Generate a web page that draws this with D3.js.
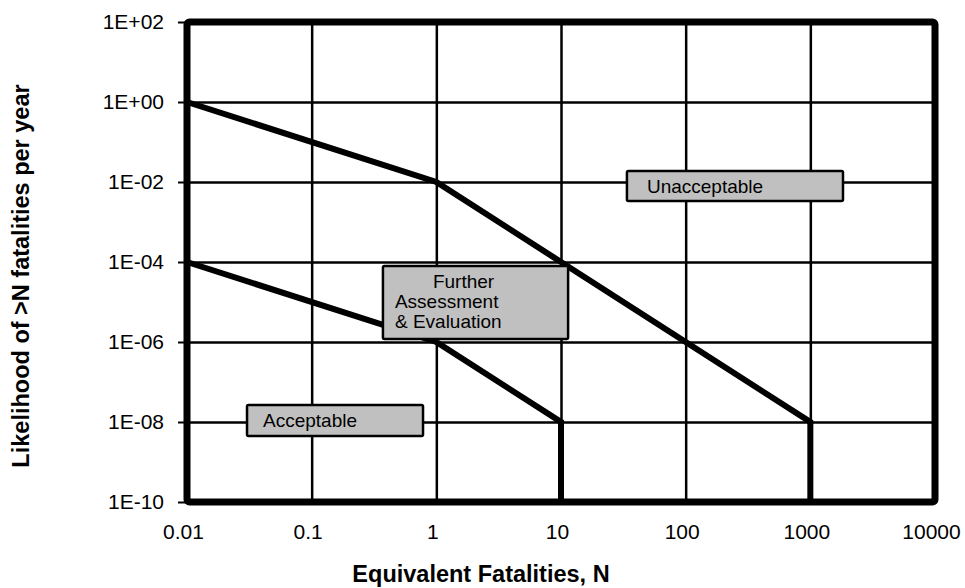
<!DOCTYPE html>
<html>
<head>
<meta charset="utf-8">
<script src="https://cdn.jsdelivr.net/npm/d3@7"></script>
<style>
  html, body { margin: 0; padding: 0; background: #fff; }
  svg { display: block; }
  text { font-family: "Liberation Sans", Arial, sans-serif; fill: #000; }
</style>
</head>
<body>
<svg id="chart" width="965" height="588"></svg>
<script>
// ---- Data ----
const xTicks = [0.01, 0.1, 1, 10, 100, 1000, 10000];
const xTickLabels = ["0.01", "0.1", "1", "10", "100", "1000", "10000"];
const yTicks = [1e2, 1e0, 1e-2, 1e-4, 1e-6, 1e-8, 1e-10];
const yTickLabels = ["1E+02", "1E+00", "1E-02", "1E-04", "1E-06", "1E-08", "1E-10"];

// Upper criterion line (unacceptable boundary)
const upperN = [0.01, 1, 10, 100, 1000, 1000];
const upperF = [1e0, 1e-2, 1e-4, 1e-6, 1e-8, 1e-10];
// Lower criterion line (acceptable boundary)
const lowerN = [0.01, 1, 10, 10];
const lowerF = [1e-4, 1e-6, 1e-8, 1e-10];

const regionLabels = [
  { lines: ["Unacceptable"], x0: 33.8, x1: 1828, y0: Math.pow(10, -1.725), y1: Math.pow(10, -2.475) },
  { lines: ["Further", "Assessment", "& Evaluation"], x0: 0.373, x1: 11.4, y0: Math.pow(10, -4.1), y1: Math.pow(10, -5.925) },
  { lines: ["Acceptable"], x0: 0.0303, x1: 0.782, y0: Math.pow(10, -7.575), y1: Math.pow(10, -8.35) }
];
const xTitle = "Equivalent Fatalities, N";
const yTitle = "Likelihood of >N fatalities per year";

// ---- Layout ----
const svg = d3.select("#chart");
const mLeft = 187, mRight = 935, mTop = 22, mBottom = 502;

const x = d3.scaleLog().domain([0.01, 10000]).range([mLeft, mRight]);
const y = d3.scaleLog().domain([1e-10, 1e2]).range([mBottom, mTop]);

// Grid lines
const gx = svg.append("g").attr("transform", `translate(0,${mBottom})`)
  .call(d3.axisBottom(x).tickValues(xTicks).tickSize(-(mBottom - mTop)).tickFormat(""));
gx.select(".domain").remove();
gx.selectAll(".tick line").attr("stroke", "#000").attr("stroke-width", 2.5);

const gy = svg.append("g").attr("transform", `translate(${mLeft},0)`)
  .call(d3.axisLeft(y).tickValues(yTicks).tickSize(-(mRight - mLeft)).tickFormat(""));
gy.select(".domain").remove();
gy.selectAll(".tick line").attr("stroke", "#000").attr("stroke-width", 2.5);

// Small outward ticks on the left, with labels
const gyt = svg.append("g").attr("transform", `translate(${mLeft},0)`)
  .call(d3.axisLeft(y).tickValues(yTicks).tickSize(9).tickPadding(14)
    .tickFormat((d, i) => yTickLabels[i]));
gyt.select(".domain").remove();
gyt.selectAll(".tick line").attr("stroke", "#000").attr("stroke-width", 2);
gyt.selectAll(".tick text")
  .style("font-family", '"Liberation Sans", Arial, sans-serif')
  .style("font-size", "21px").attr("fill", "#000");

// X tick labels
const gxl = svg.append("g").attr("transform", `translate(0,${mBottom})`)
  .call(d3.axisBottom(x).tickValues(xTicks).tickSize(0).tickPadding(22)
    .tickFormat((d, i) => xTickLabels[i]));
gxl.select(".domain").remove();
gxl.selectAll(".tick text")
  .attr("dx", -4)
  .style("font-family", '"Liberation Sans", Arial, sans-serif')
  .style("font-size", "21px").attr("fill", "#000");

// Criterion lines
const line = d3.line().x(d => x(d[0])).y(d => y(d[1]));
svg.append("path")
  .datum(upperN.map((n, i) => [n, upperF[i]]))
  .attr("d", line).attr("fill", "none").attr("stroke", "#000")
  .attr("stroke-width", 6).attr("stroke-linejoin", "miter");
svg.append("path")
  .datum(lowerN.map((n, i) => [n, lowerF[i]]))
  .attr("d", line).attr("fill", "none").attr("stroke", "#000")
  .attr("stroke-width", 6).attr("stroke-linejoin", "miter");

// Region label boxes
const padLeft = [20, 12, 16];
regionLabels.forEach((r, k) => {
  const bx = x(r.x0), by = y(r.y0), bw = x(r.x1) - x(r.x0), bh = y(r.y1) - y(r.y0);
  svg.append("rect")
    .attr("x", bx).attr("y", by).attr("width", bw).attr("height", bh)
    .attr("rx", 1.5)
    .attr("fill", "#c0c0c0").attr("stroke", "#000").attr("stroke-width", 2.5);
  r.lines.forEach((t, j) => {
    let dx = padLeft[k];
    if (r.lines.length > 1 && j === 0) dx = 50;
    svg.append("text")
      .attr("x", bx + dx)
      .attr("y", by + 22 + j * 20)
      .style("font-size", "19px")
      .text(t);
  });
});

// Frame
svg.append("rect")
  .attr("x", mLeft).attr("y", mTop)
  .attr("width", mRight - mLeft).attr("height", mBottom - mTop)
  .attr("rx", 2.5)
  .attr("fill", "none").attr("stroke", "#000").attr("stroke-width", 7);

// Axis titles
svg.append("text")
  .attr("x", 481).attr("y", 582)
  .attr("text-anchor", "middle")
  .style("font-size", "23.5px").style("font-weight", "bold")
  .text(xTitle);
svg.append("text")
  .attr("transform", `translate(29,276) rotate(-90)`)
  .attr("text-anchor", "middle")
  .style("font-size", "23.5px").style("font-weight", "bold")
  .text(yTitle);
</script>
</body>
</html>
